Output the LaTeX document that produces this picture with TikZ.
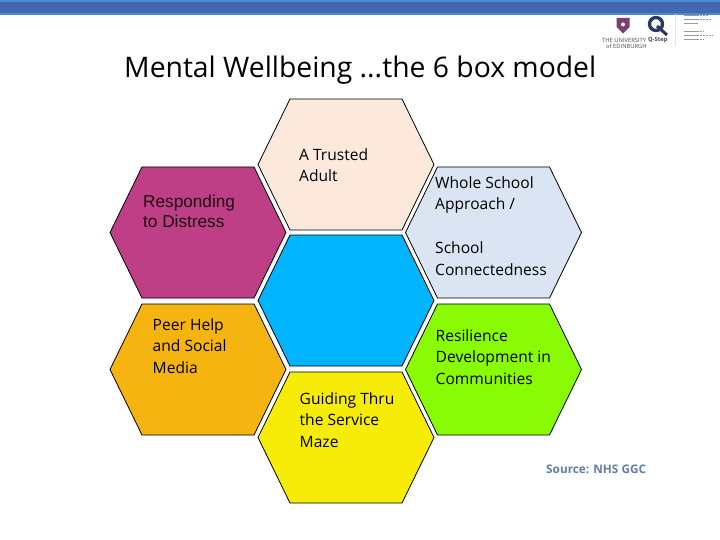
\documentclass[tikz,border=0pt]{standalone}
\usepackage{fontspec}
\setmainfont{Open Sans}
\newfontfamily\arialf{Liberation Sans}
\tikzset{
  x=1pt,y=-1pt,
  hexa/.style={draw=black,line width=0.8pt,line join=miter},
  lab/.style={anchor=north west,inner sep=0pt,align=left,text=black,font=\fontsize{15.6}{21.8}\selectfont}
}
\definecolor{bandm}{HTML}{4168B1}
\definecolor{bande}{HTML}{4A8BCB}
\definecolor{peach}{HTML}{FCE9DC}
\definecolor{mag}{HTML}{BE3F86}
\definecolor{sky}{HTML}{00B4FF}
\definecolor{pale}{HTML}{DAE4F2}
\definecolor{orng}{HTML}{F5B40F}
\definecolor{lime}{HTML}{88FB05}
\definecolor{yell}{HTML}{F7EC08}
\definecolor{navy}{HTML}{2A3A5E}
\definecolor{srcc}{HTML}{5F7FA8}
\newcommand{\hexat}[3]{\fill[#3] (#1-88,#2) -- (#1-56,#2-65.5) -- (#1+56,#2-65.5) -- (#1+88,#2) -- (#1+56,#2+65.5) -- (#1-56,#2+65.5) -- cycle;
 \draw[hexa] (#1-88,#2) -- (#1-56,#2-65.5) -- (#1+56,#2-65.5) -- (#1+88,#2) -- (#1+56,#2+65.5) -- (#1-56,#2+65.5) -- cycle;}
\begin{document}
\begin{tikzpicture}
\useasboundingbox (0,0) rectangle (720,540);
\fill[white] (0,0) rectangle (720,540);
% top band
\fill[bande] (0,0) rectangle (720,15);
\fill[bandm] (0,2.5) rectangle (720,13);
% logos
\fill[mag!55!navy] (616.5,18) -- (629.5,18) -- (629.5,27) -- (623,33.5) -- (616.5,27) -- cycle;
\node[circle,fill=white,minimum size=4pt,inner sep=0pt] (crestc) at (623,24.5) {};
\node[circle,draw=navy,line width=3.4pt,minimum size=13pt,inner sep=0pt] (qmark) at (656,24) {};
\coordinate (qa) at (657,26); \coordinate (qb) at (667,35);
\draw[navy,line width=3pt] (qa) -- (qb);
\node[anchor=west,inner sep=0pt,font=\fontsize{5.8}{6}\selectfont,text=black!70] (uni) at (602,40.5) {THE UNIVERSITY};
\node[anchor=west,inner sep=0pt,font=\fontsize{5.8}{6}\selectfont\bfseries,text=black!70] (qs) at (648,40.5) {Q-Step};
\node[anchor=west,inner sep=0pt,font=\fontsize{5.8}{6}\selectfont,text=black!70] (edi) at (606,46) {of EDINBURGH};
\draw[black!10,line width=0.6pt] (675,14) -- (675,46);
\foreach \yy/\xx in {16/708,20/711,24/698,32/703,36/712,40/704}{
  \draw[black!40,line width=1pt,dash pattern=on 2.5pt off 0.6pt] (684,\yy) -- (\xx,\yy);
}
% title
\node[anchor=west,inner sep=0pt,font=\fontsize{28.3}{32}\selectfont,text=black] (title) at (124,70) {Mental Wellbeing ...the 6 box model};
% hexagons
\hexat{346}{164.5}{peach}
\hexat{198}{232.5}{mag}
\hexat{493.5}{232.5}{pale}
\hexat{346}{300.5}{sky}
\hexat{198}{369.5}{orng}
\hexat{493.5}{369.5}{lime}
\hexat{346}{437.5}{yell}
% labels
\node[lab] (l1) at (299,148) {A Trusted\\Adult};
\node[anchor=north west,inner sep=0pt,align=left,font=\arialf\fontsize{17.2}{20}\selectfont,text=black!85!mag] (l2) at (143,195) {Responding\\to Distress};
\node[lab] (l3) at (435,176) {Whole School\\Approach /\\[21.8pt]School\\Connectedness};
\node[lab] (l4) at (152.5,318) {Peer Help\\and Social\\Media};
\node[lab] (l5) at (435.5,329) {Resilience\\Development in\\Communities};
\node[lab] (l6) at (299.5,392) {Guiding Thru\\the Service\\Maze};
\node[anchor=west,inner sep=0pt,font=\fontsize{11.8}{14}\selectfont\bfseries,text=srcc] (src) at (546,469.5) {Source: NHS GGC};
\end{tikzpicture}
\end{document}
